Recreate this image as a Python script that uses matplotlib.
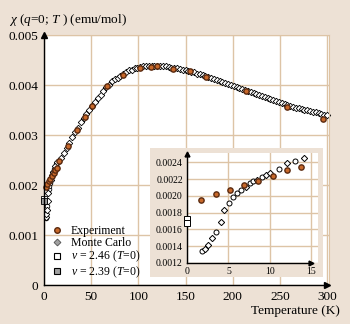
import matplotlib
matplotlib.use("Agg")
import matplotlib.pyplot as plt
from matplotlib.lines import Line2D

plt.rcParams['font.family'] = ['Liberation Serif', 'DejaVu Serif']
plt.rcParams['mathtext.fontset'] = 'custom'
plt.rcParams['mathtext.rm'] = 'Liberation Serif'
plt.rcParams['mathtext.it'] = 'Liberation Serif:italic'

# --- data (T in K, chi in emu/mol) ---
# Monte Carlo, low temperature (inset), circles and diamonds
mc_circ_T = [1.81, 3.54, 5.04, 5.55, 6.05, 6.52, 7.55, 8.02, 9.05, 11.1, 13.06]
mc_circ_chi = [0.001348, 0.001572, 0.001913, 0.001984, 0.002031, 0.002074,
               0.002148, 0.002172, 0.002224, 0.002321, 0.002419]
mc_diam_T = [2.2, 2.51, 3.03, 4.05, 4.52, 7.07, 8.5, 9.52, 10.0, 12.07, 14.07]
mc_diam_chi = [0.001370, 0.001415, 0.001494, 0.001686, 0.001831, 0.002100,
               0.002192, 0.002251, 0.002270, 0.002388, 0.002451]

# Monte Carlo, rest of the curve
mc_T = [15, 18, 21, 24, 27, 30, 33, 36, 39, 42, 45, 48, 51, 54, 57, 60, 63, 66,
        69, 72, 75, 78, 81, 84, 87, 90, 93, 96, 99, 102, 105, 108, 111, 114,
        117, 120, 123, 126, 129, 132, 135, 138, 141, 144, 147, 150, 153, 156,
        159, 162, 165, 168, 171, 174, 177, 180, 183, 186, 189, 192, 195, 198,
        201, 204, 207, 210, 213, 216, 219, 222, 225, 228, 231, 234, 237, 240,
        243, 246, 249, 252, 255, 258, 261, 264, 267, 270, 273, 276, 279, 282,
        285, 288, 291, 294, 297, 300]
mc_chi = [2.47, 2.55, 2.64, 2.74, 2.84, 2.96, 3.06, 3.15, 3.25, 3.34, 3.42,
          3.51, 3.59, 3.66, 3.74, 3.81, 3.88, 3.95, 4.01, 4.07, 4.12, 4.15,
          4.18, 4.22, 4.26, 4.29, 4.31, 4.33, 4.35, 4.36, 4.37, 4.38, 4.38,
          4.39, 4.39, 4.39, 4.38, 4.38, 4.37, 4.36, 4.35, 4.34, 4.33, 4.32,
          4.31, 4.29, 4.28, 4.26, 4.25, 4.23, 4.22, 4.20, 4.18, 4.16, 4.14,
          4.12, 4.10, 4.08, 4.06, 4.04, 4.02, 4.00, 3.98, 3.96, 3.94, 3.92,
          3.90, 3.88, 3.86, 3.84, 3.82, 3.80, 3.78, 3.76, 3.74, 3.72, 3.70,
          3.68, 3.66, 3.64, 3.62, 3.60, 3.58, 3.57, 3.55, 3.54, 3.52, 3.51,
          3.49, 3.48, 3.46, 3.45, 3.44, 3.42, 3.41, 3.40]
mc_chi = [v * 1e-3 for v in mc_chi]

# Experiment
exp_T = [1.65, 3.46, 5.15, 6.88, 8.61, 10.34, 12.07, 13.8,
         16, 25.6, 35, 43, 51, 67, 84, 102, 113, 120, 137, 155, 172, 214,
         258, 296]
exp_chi = [0.001956, 0.002019, 0.002074, 0.002125, 0.00218, 0.002235,
           0.002306, 0.002341,
           0.00249, 0.00278, 0.00310, 0.00337, 0.00359, 0.00398, 0.00421,
           0.00435, 0.00437, 0.00438, 0.00433, 0.00427, 0.00417, 0.00388,
           0.00357, 0.00332]

# T = 0 estimates
nu246_chi = 0.00172
nu239_chi = 0.00168

bg = '#EDE1D5'
grid_c = '#DDC4A6'
exp_face = '#C8692A'
exp_edge = '#5A2A10'

fig = plt.figure(figsize=(3.5, 3.24), dpi=100)
fig.patch.set_facecolor(bg)

# main axes
ax = fig.add_axes([44/350, 39/324, 285/350, 250/324])
ax.set_xlim(0, 302)
ax.set_ylim(0, 0.005)
ax.set_xticks([0, 50, 100, 150, 200, 250, 300])
ax.set_yticks([0, 0.001, 0.002, 0.003, 0.004, 0.005])
ax.set_yticklabels(['0', '0.001', '0.002', '0.003', '0.004', '0.005'])
ax.grid(True, color=grid_c, lw=1)
ax.set_axisbelow(True)
ax.tick_params(length=0, labelsize=9.5, pad=4)
for s in ['top', 'right']:
    ax.spines[s].set_color(grid_c)
for s in ['left', 'bottom']:
    ax.spines[s].set_visible(False)
ax.plot([0, 300], [0, 0], color='k', lw=1, clip_on=False, zorder=5)
ax.plot([0, 0], [0, 0.005], color='k', lw=1, clip_on=False, zorder=5)
ax.plot([300], [0], marker='>', ms=4, color='k', clip_on=False, zorder=5)
ax.plot([0], [0.005], marker='^', ms=4, color='k', clip_on=False, zorder=5)

ax.plot(mc_T, mc_chi, 'D', ms=3.3, mfc='white', mec='k', mew=0.6, clip_on=False)
ax.plot(mc_circ_T, mc_circ_chi, 'o', ms=3.3, mfc='white', mec='k', mew=0.6)
ax.plot(mc_diam_T, mc_diam_chi, 'D', ms=3.3, mfc='white', mec='k', mew=0.6)
ax.plot([0], [nu246_chi], 's', ms=4, mfc='white', mec='k', mew=0.6, clip_on=False)
ax.plot([0], [nu239_chi], 's', ms=4, mfc='#A0A0A0', mec='k', mew=0.6, clip_on=False)
ax.plot(exp_T, exp_chi, 'o', ms=3.8, mfc=exp_face, mec=exp_edge, mew=1, clip_on=False)

handles = [
    Line2D([], [], ls='', marker='o', ms=4, mfc=exp_face, mec=exp_edge, mew=1),
    Line2D([], [], ls='', marker='D', ms=3.5, mfc='#A0A0A0', mec='#505050', mew=0.6),
    Line2D([], [], ls='', marker='s', ms=4.5, mfc='white', mec='k', mew=0.8),
    Line2D([], [], ls='', marker='s', ms=4.5, mfc='#A0A0A0', mec='k', mew=0.8),
]
labels = ['Experiment', 'Monte Carlo', r'$\nu$ = 2.46 ($T$=0)', r'$\nu$ = 2.39 ($T$=0)']
ax.legend(handles, labels, loc='upper left', bbox_to_anchor=(51/350, 1 - 225/324),
          bbox_transform=fig.transFigure, frameon=False, fontsize=8.5,
          handlelength=1.0, handletextpad=0.7, labelspacing=0.0, borderpad=0,
          borderaxespad=0)

fig.text(9/350, 1 - 20/324, r'$\chi$ ($q$=0; $T$ ) (emu/mol)', fontsize=9.5,
         ha='left', va='center')
fig.text(340/350, 1 - 311/324, 'Temperature (K)', fontsize=9.5,
         ha='right', va='center')

# inset
box = fig.add_axes([150/350, 47/324, 173/350, 129/324])
box.set_facecolor(bg)
box.set_xticks([])
box.set_yticks([])
for s in box.spines.values():
    s.set_visible(False)

ins = fig.add_axes([187/350, 61/324, 131/350, 110/324])
ins.set_xlim(0, 15.8)
ins.set_ylim(0.0012, 0.00251)
ins.set_xticks([0, 5, 10, 15])
ins.set_yticks([0.0012, 0.0014, 0.0016, 0.0018, 0.0020, 0.0022, 0.0024])
ins.set_yticklabels(['0.0012', '0.0014', '0.0016', '0.0018', '0.0020', '0.0022', '0.0024'])
ins.grid(True, color=grid_c, lw=1)
ins.set_axisbelow(True)
ins.tick_params(length=0, labelsize=7, pad=3)
for s in ins.spines.values():
    s.set_visible(False)
ins.plot([0, 15], [0.0012, 0.0012], color='k', lw=1, clip_on=False, zorder=5)
ins.plot([0, 0], [0.0012, 0.0025], color='k', lw=1, clip_on=False, zorder=5)
ins.plot([15], [0.0012], marker='>', ms=3.5, color='k', clip_on=False, zorder=5)
ins.plot([0], [0.0025], marker='^', ms=3.5, color='k', clip_on=False, zorder=5)

ins.plot(mc_circ_T, mc_circ_chi, 'o', ms=3.6, mfc='white', mec='k', mew=0.7)
ins.plot(mc_diam_T, mc_diam_chi, 'D', ms=3.2, mfc='white', mec='k', mew=0.7)
ins.plot([0], [nu246_chi], 's', ms=4, mfc='white', mec='k', mew=0.7, clip_on=False, zorder=6)
ins.plot([0], [nu239_chi], 's', ms=4, mfc='white', mec='k', mew=0.7, clip_on=False, zorder=6)
ins.plot(exp_T[:8], exp_chi[:8], 'o', ms=3.8, mfc=exp_face, mec=exp_edge, mew=1)

fig.savefig('out.png', dpi=100, facecolor=bg)
